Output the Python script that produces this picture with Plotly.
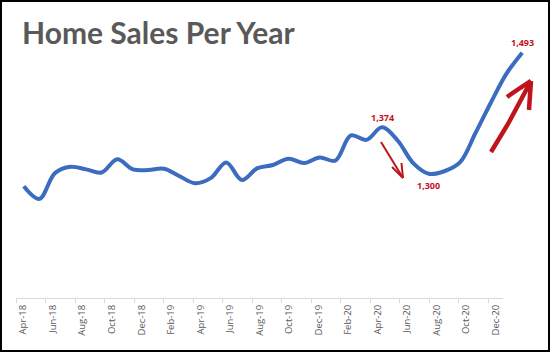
import plotly.graph_objects as go

# ---- data ----
months = ["Apr-18", "May-18", "Jun-18", "Jul-18", "Aug-18", "Sep-18", "Oct-18", "Nov-18",
          "Dec-18", "Jan-19", "Feb-19", "Mar-19", "Apr-19", "May-19", "Jun-19", "Jul-19",
          "Aug-19", "Sep-19", "Oct-19", "Nov-19", "Dec-19", "Jan-20", "Feb-20", "Mar-20",
          "Apr-20", "May-20", "Jun-20", "Jul-20", "Aug-20", "Sep-20", "Oct-20", "Nov-20",
          "Dec-20"]
sales = [1280, 1260, 1301, 1311, 1307, 1302, 1323, 1307, 1306, 1308, 1296, 1285, 1293,
         1318, 1290, 1309, 1314, 1324, 1317, 1326, 1321, 1361, 1354, 1374, 1353, 1317,
         1300, 1304, 1318, 1365, 1414, 1460, 1493]
label_months = ["Mar-20", "Jun-20", "Dec-20"]
label_shift = [10, -12, 10]

tick_idx = list(range(0, len(months), 2))
tick_text = [months[i] for i in tick_idx]

W, H = 550, 352
ML, MR, MT, MB = 16, 20, 47, 54
PW, PH = W - ML - MR, H - MT - MB
RED = "#c0141c"


def px2paper(x, y):
    return (x - ML) / PW, (H - MB - y) / PH


def path(pts):
    s = ""
    for k, (x, y) in enumerate(pts):
        px, py = px2paper(x, y)
        s += ("M" if k == 0 else "L") + f"{px:.5f},{py:.5f} "
    return s


fig = go.Figure()
# empty trace so the category-label axis (x / y subplot) is drawn
fig.add_trace(go.Scatter(x=[], y=[], xaxis="x", yaxis="y", mode="lines",
                         hoverinfo="skip", showlegend=False))
fig.add_trace(go.Scatter(
    x=months, y=sales, mode="lines", xaxis="x2", yaxis="y",
    line=dict(color="#3b6cbf", width=4, shape="spline", smoothing=1),
    hoverinfo="skip", showlegend=False))

for m, s in zip(label_months, label_shift):
    v = sales[months.index(m)]
    fig.add_annotation(x=m, y=v, xref="x2", yref="y", text=f"{v:,}", showarrow=False,
                       yshift=s, font=dict(family="Open Sans", size=9, color=RED, weight="bold"))

shapes = []
# small arrow after the peak
for seg in [[(381, 142), (403, 178)], [(392, 167), (403, 178)], [(401.5, 163), (403, 178)]]:
    shapes.append(dict(type="path", xref="paper", yref="paper", path=path(seg),
                       line=dict(color=RED, width=2)))
# big arrow near the end
for seg in [[(491, 152), (508, 124), (531, 81)], [(507, 97), (520, 88), (531, 81)],
            [(529, 110), (530, 95), (531, 81)]]:
    shapes.append(dict(type="path", xref="paper", yref="paper", path=path(seg),
                       line=dict(color=RED, width=4.5)))
# outer border
x0, y0 = px2paper(1, H - 1)
x1, y1 = px2paper(W - 1, 1)
shapes.append(dict(type="rect", xref="paper", yref="paper", x0=x0, y0=y0, x1=x1, y1=y1,
                   line=dict(color="black", width=2)))

fig.update_layout(
    width=W, height=H,
    margin=dict(l=ML, r=MR, t=MT, b=MB, pad=0),
    paper_bgcolor="white", plot_bgcolor="white",
    title=dict(text="<b>Home Sales Per Year</b>", x=22 / W, xanchor="left",
               y=1 - 33 / H, yanchor="middle", yref="container",
               font=dict(family="Lato", size=30, color="#595959")),
    xaxis=dict(domain=[0, 487 / PW], range=[-0.5, len(months) - 0.5],
               tickmode="array", tickvals=tick_idx, ticktext=tick_text, tickangle=-90,
               showline=True, linecolor="#d9d9d9", linewidth=1, showgrid=False,
               zeroline=False, ticks="", ticklabelstandoff=2,
               minor=dict(tickvals=[i - 0.5 for i in tick_idx], ticks="outside",
                          ticklen=4, tickcolor="#d9d9d9", tickwidth=1, showgrid=False),
               tickfont=dict(family="Open Sans", size=9.5, color="#595959")),
    xaxis2=dict(domain=[0, 1], range=[-0.5, len(months) - 0.5], anchor="y",
                type="category", categoryorder="array", categoryarray=months,
                visible=False),
    yaxis=dict(range=[1102, 1502], visible=False, showgrid=False, zeroline=False),
    shapes=shapes,
)

fig.write_html("out.html")
